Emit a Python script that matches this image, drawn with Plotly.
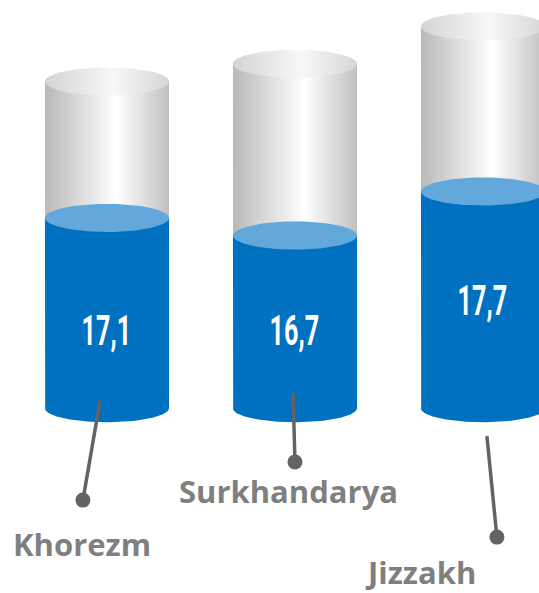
import numpy as np
import plotly.graph_objects as go

# ---- data ----
categories = ["Khorezm", "Surkhandarya", "Jizzakh"]
values = [17.1, 16.7, 17.7]
capacity = [20.2, 20.6, 21.45]   # grey "glass" level

# ---- layout constants (axis units) ----
BASE = 12.78
HALF_W = 0.33
RY = 0.32
X_RANGE = [-0.569, 2.298]
Y_RANGE = [8.58, 22.05]

BLUE = "#0070C0"
BLUE_TOP = "#63A8DB"
LINE_COL = "#636363"
LABEL_COL = "#7F7F7F"

# leader lines: (dx_start, y_start, dx_end, y_end) relative to cylinder centre
LEADERS = [(-0.037, 12.94, -0.128, 10.69),
           (-0.010, 13.12, 0.000, 11.555),
           (0.021, 12.145, 0.074, 9.85)]
# label anchors (dx, y) relative to cylinder centre
LABEL_POS = [(-0.133, 9.69), (-0.037, 10.90), (-0.335, 9.05)]
VALUE_YSHIFT = [-2, 5, 17]

t = np.linspace(0, 2 * np.pi, 121)
tb = np.linspace(np.pi, 2 * np.pi, 61)  # lower half

fig = go.Figure()


def body(cx, y0, y1):
    # rectangle plus bottom half ellipse
    xs = [cx - HALF_W] + list(cx + HALF_W * np.cos(tb)) + [cx + HALF_W, cx - HALF_W]
    ys = [y1] + list(y0 + RY * np.sin(tb)) + [y1, y1]
    return xs, ys


def ellipse(cx, cy):
    return list(cx + HALF_W * np.cos(t)), list(cy + RY * np.sin(t))


for i, (cat, v, cap) in enumerate(zip(categories, values, capacity)):
    # grey glass body
    xs, ys = body(i, BASE, cap)
    fig.add_trace(go.Scatter(
        x=xs, y=ys, mode="lines", fill="toself", line=dict(width=0),
        fillgradient=dict(type="horizontal",
                          colorscale=[[0, "#b9b9b9"], [0.58, "#ffffff"], [1, "#c0c0c0"]]),
        hoverinfo="skip", showlegend=False))
    ex, ey = ellipse(i, cap)
    fig.add_trace(go.Scatter(
        x=ex, y=ey, mode="lines", fill="toself", line=dict(width=0),
        fillgradient=dict(type="horizontal",
                          colorscale=[[0, "#d4d4d4"], [0.55, "#f8f8f8"], [1, "#d6d6d6"]]),
        hoverinfo="skip", showlegend=False))
    # blue liquid
    xs, ys = body(i, BASE, v)
    fig.add_trace(go.Scatter(
        x=xs, y=ys, mode="lines", fill="toself", fillcolor=BLUE, line=dict(width=0),
        name=cat, hovertemplate=f"{cat}: {v}<extra></extra>", showlegend=False))
    ex, ey = ellipse(i, v)
    fig.add_trace(go.Scatter(
        x=ex, y=ey, mode="lines", fill="toself", fillcolor=BLUE_TOP, line=dict(width=0),
        hoverinfo="skip", showlegend=False))

    # leader line + dot
    dx0, y0, dx1, y1 = LEADERS[i]
    fig.add_trace(go.Scatter(
        x=[i + dx0, i + dx1], y=[y0, y1], mode="lines",
        line=dict(color=LINE_COL, width=3.5), hoverinfo="skip", showlegend=False))
    fig.add_trace(go.Scatter(
        x=[i + dx1], y=[y1], mode="markers",
        marker=dict(color=LINE_COL, size=15), hoverinfo="skip", showlegend=False))

    # value label
    fig.add_annotation(
        x=i, y=BASE + (v - BASE) * 0.42, xref="x", yref="y",
        text=f"{v:.1f}".replace(".", ","), showarrow=False, yshift=VALUE_YSHIFT[i],
        font=dict(family="Roboto, Liberation Sans, sans-serif",
                  size=42, color="white", weight="bold"))
    # category label
    lx, ly = LABEL_POS[i]
    fig.add_annotation(
        x=i + lx, y=ly, xref="x", yref="y", text=cat, showarrow=False,
        font=dict(family="Open Sans, Noto Sans, sans-serif", size=31,
                  color=LABEL_COL, weight="bold"))

fig.update_layout(
    width=539, height=593,
    margin=dict(l=0, r=0, t=0, b=0),
    paper_bgcolor="white", plot_bgcolor="white",
    xaxis=dict(range=X_RANGE, visible=False, fixedrange=True),
    yaxis=dict(range=Y_RANGE, visible=False, fixedrange=True),
)

# condense the numeric value labels horizontally (the reference uses a condensed face)
post = """
document.body.style.margin='0';
document.body.style.overflow='hidden';
document.querySelectorAll('.annotation-text').forEach(function(el){
  if (/^\\d+,\\d$/.test(el.textContent.trim())) {
    el.style.transformBox='fill-box';
    el.style.transformOrigin='center';
    el.style.transform='scale(0.6,1)';
  }
});
"""

fig.write_html("out.html", config={"displayModeBar": False}, post_script=post)
